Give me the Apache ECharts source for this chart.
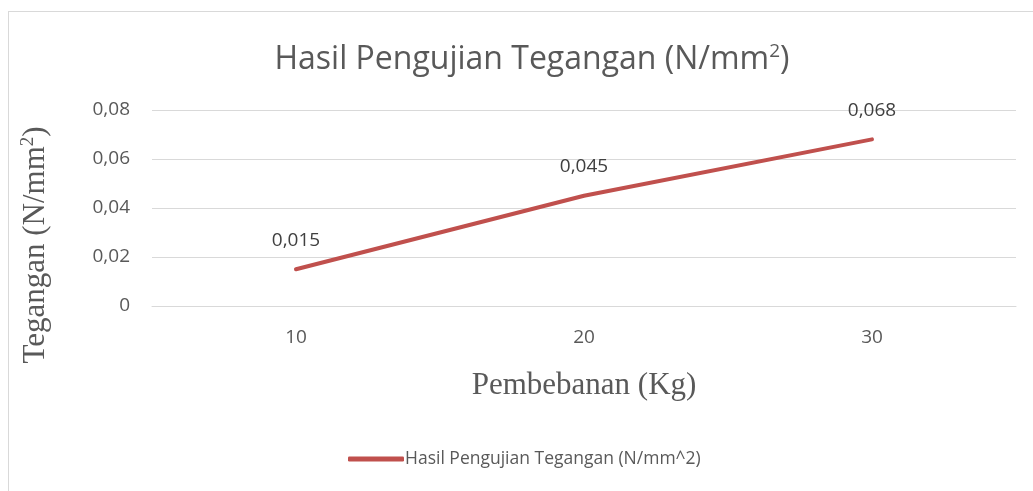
<!DOCTYPE html>
<html>
<head>
<meta charset="utf-8">
<script src="https://cdn.jsdelivr.net/npm/echarts@6/dist/echarts.min.js"></script>
<style>
html, body { margin: 0; padding: 0; background: #fff; }
#frame { position: absolute; left: 8px; top: 11px; width: 1040px; height: 500px; border: 1px solid #d9d9d9; box-sizing: border-box; }
#chart { position: absolute; left: 0; top: 0; width: 1033px; height: 491px; }
</style>
</head>
<body>
<div id="frame"></div>
<div id="chart"></div>
<script>
var categories = ['10', '20', '30'];
var tegangan = [0.015, 0.045, 0.068];
var yTicks = [0, 0.02, 0.04, 0.06, 0.08];
var seriesName = 'Hasil Pengujian Tegangan (N/mm^2)';

function koma(v) {
	return String(v).replace('.', ',');
}

var myChart = echarts.init(document.getElementById('chart'));
var option = {
	animation: false,
	title: {
		text: '{t|Hasil Pengujian Tegangan (N/mm}{s|2}{t|)}',
		left: 527,
		textAlign: 'center',
		top: 37,
		textStyle: {
			fontWeight: 'normal',
			rich: {
				t: { fontFamily: 'Open Sans', fontSize: 32, fontWeight: 'normal', color: '#595959' },
				s: { fontFamily: 'Open Sans', fontSize: 19, fontWeight: 'normal', color: '#595959', verticalAlign: 'top', padding: [0, 0, 16, 0] }
			}
		}
	},
	legend: {
		data: [seriesName],
		left: 343,
		top: 445,
		itemWidth: 56,
		itemHeight: 5,
		itemGap: 4,
		icon: 'roundRect',
		itemStyle: { color: '#C0504D' },
		textStyle: { fontFamily: 'Open Sans', fontSize: 17.5, color: '#595959', padding: [0, 0, 0, -4] }
	},
	grid: { left: 152, right: 17, top: 110, bottom: 185 },
	xAxis: {
		type: 'category',
		data: categories,
		boundaryGap: true,
		axisLine: { lineStyle: { color: '#d9d9d9' } },
		axisTick: { show: false },
		axisLabel: { fontFamily: 'Open Sans', fontSize: 19, color: '#595959', margin: 22 },
		name: 'Pembebanan (Kg)',
		nameLocation: 'middle',
		nameGap: 64,
		nameTextStyle: { fontFamily: 'Liberation Serif', fontSize: 31, color: '#595959' }
	},
	yAxis: {
		type: 'value',
		min: yTicks[0],
		max: yTicks[yTicks.length - 1],
		interval: 0.02,
		axisLine: { show: false },
		axisTick: { show: false },
		splitLine: { lineStyle: { color: '#d9d9d9', width: 1 } },
		axisLabel: {
			fontFamily: 'Open Sans', fontSize: 19, color: '#595959', margin: 22,
			formatter: function (v) { return koma(v); }
		},
		name: '{t|Tegangan (N/mm}{s|2}{t|)}',
		nameLocation: 'middle',
		nameGap: 100,
		nameTextStyle: {
			padding: [0, 74, 0, 0],
			rich: {
				t: { fontFamily: 'Liberation Serif', fontSize: 31, color: '#595959' },
				s: { fontFamily: 'Liberation Serif', fontSize: 19, color: '#595959', verticalAlign: 'top', padding: [0, 0, 14, 0] }
			}
		}
	},
	series: [{
		name: seriesName,
		type: 'line',
		data: tegangan,
		symbol: 'circle',
		symbolSize: 1,
		showSymbol: true,
		itemStyle: { color: '#C0504D' },
		lineStyle: { width: 4, color: '#C0504D', cap: 'round', join: 'round' },
		label: {
			show: true,
			position: 'top',
			distance: 19,
			fontFamily: 'Open Sans',
			fontSize: 19,
			color: '#404040',
			formatter: function (p) { return koma(p.value); }
		}
	}]
};
myChart.setOption(option);
</script>
</body>
</html>
